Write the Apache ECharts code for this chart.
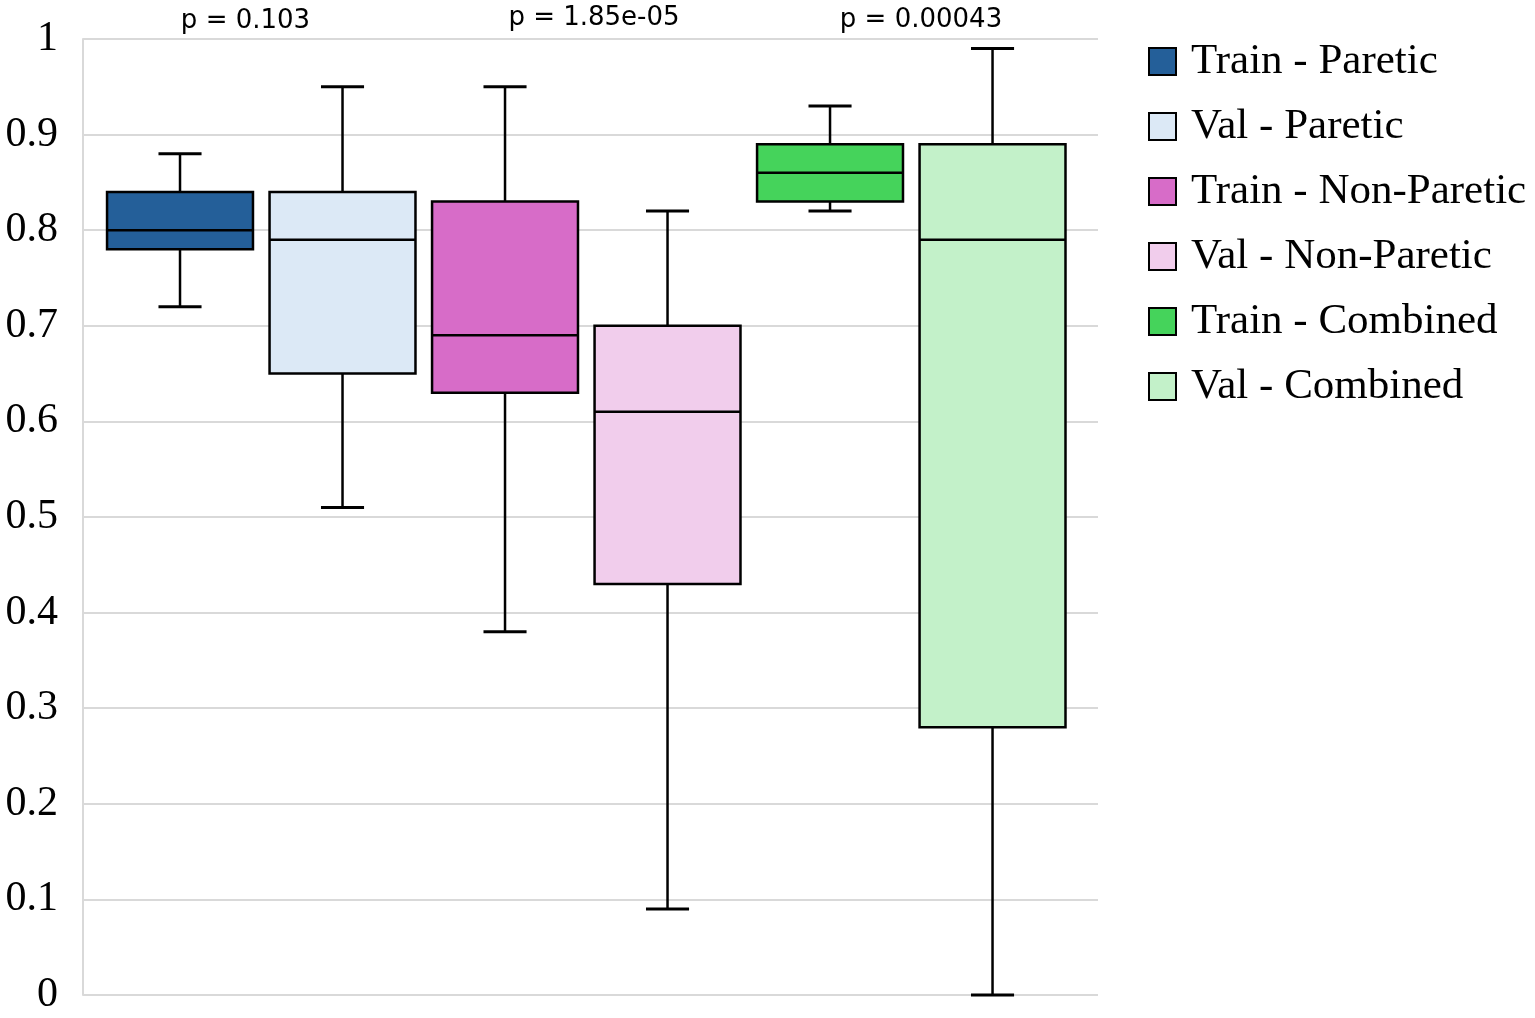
<!DOCTYPE html>
<html>
<head>
<meta charset="utf-8">
<script src="https://cdn.jsdelivr.net/npm/echarts@6/dist/echarts.min.js"></script>
<style>html,body{margin:0;padding:0;background:#fff;}#main{width:1535px;height:1018px;}</style>
</head>
<body>
<div id="main"></div>
<script>
// ---- data ----
const seriesNames = ['Train - Paretic', 'Val - Paretic', 'Train - Non-Paretic', 'Val - Non-Paretic', 'Train - Combined', 'Val - Combined'];
const positions = [0, 1, 2, 3, 4, 5];
// [low whisker, Q1, median, Q3, high whisker]
const trainParetic = [0.72, 0.78, 0.80, 0.84, 0.88];
const valParetic = [0.51, 0.65, 0.79, 0.84, 0.95];
const trainNonParetic = [0.38, 0.63, 0.69, 0.83, 0.95];
const valNonParetic = [0.09, 0.43, 0.61, 0.70, 0.82];
const trainCombined = [0.82, 0.83, 0.86, 0.89, 0.93];
const valCombined = [0.00, 0.28, 0.79, 0.89, 0.99];
const colors = ['#245f99', '#dce9f6', '#d76cc8', '#f1cdec', '#45d35b', '#c3f1c9'];
const pValueLabels = ['p = 0.103', 'p = 1.85e-05', 'p = 0.00043'];
const yTicks = ['0', '0.1', '0.2', '0.3', '0.4', '0.5', '0.6', '0.7', '0.8', '0.9', '1'];

const allStats = [trainParetic, valParetic, trainNonParetic, valNonParetic, trainCombined, valCombined];

const chart = echarts.init(document.getElementById('main'));

function renderBox(params, api) {
  const x = api.value(0);
  const lo = api.coord([x, api.value(1)]);
  const q1 = api.coord([x, api.value(2)]);
  const med = api.coord([x, api.value(3)]);
  const q3 = api.coord([x, api.value(4)]);
  const hi = api.coord([x, api.value(5)]);
  const bw = api.size([0.898, 0])[0];
  const cw = api.size([0.265, 0])[0];
  const cx = lo[0];
  const line = { stroke: '#000', lineWidth: 2.5 };
  const cap = { stroke: '#000', lineWidth: 3 };
  return {
    type: 'group',
    children: [
      { type: 'line', shape: { x1: cx, y1: lo[1], x2: cx, y2: q1[1] }, style: line },
      { type: 'line', shape: { x1: cx, y1: q3[1], x2: cx, y2: hi[1] }, style: line },
      { type: 'line', shape: { x1: cx - cw / 2, y1: lo[1], x2: cx + cw / 2, y2: lo[1] }, style: cap },
      { type: 'line', shape: { x1: cx - cw / 2, y1: hi[1], x2: cx + cw / 2, y2: hi[1] }, style: cap },
      { type: 'rect', shape: { x: cx - bw / 2, y: q3[1], width: bw, height: q1[1] - q3[1] },
        style: { fill: api.visual('color'), stroke: '#000', lineWidth: 2.5 } },
      { type: 'line', shape: { x1: cx - bw / 2, y1: med[1], x2: cx + bw / 2, y2: med[1] }, style: line }
    ]
  };
}

const series = seriesNames.map((name, i) => ({
  name: name,
  type: 'custom',
  renderItem: renderBox,
  itemStyle: { color: colors[i], borderColor: '#000', borderWidth: 2 },
  encode: { x: 0, y: [1, 2, 3, 4, 5] },
  data: [[positions[i]].concat(allStats[i])],
  silent: true
}));

const pFont = '26px "DejaVu Sans", sans-serif';

chart.setOption({
  animation: false,
  backgroundColor: '#fff',
  grid: { left: 83, right: 437, top: 39, bottom: 23 },
  xAxis: { type: 'value', min: -0.597, max: 5.649, show: false },
  yAxis: {
    type: 'value', min: 0, max: 1, interval: 0.1,
    axisLine: { show: true, onZero: false, lineStyle: { color: '#d9d9d9', width: 2 } },
    axisTick: { show: false },
    splitLine: { show: true, lineStyle: { color: '#d9d9d9', width: 2 } },
    axisLabel: {
      margin: 25, color: '#000', fontFamily: 'Liberation Serif', fontSize: 42,
      formatter: function (v) { return yTicks[Math.round(v * 10)]; }
    }
  },
  legend: {
    orient: 'vertical', left: 1148, top: 40, padding: 0,
    itemWidth: 27, itemHeight: 27, itemGap: 22,
    icon: 'rect',
    itemStyle: { borderColor: '#000', borderWidth: 2 },
    textStyle: { fontFamily: 'Liberation Serif', fontSize: 43, color: '#000', lineHeight: 43, padding: [0, 0, 0, 10] },
    data: seriesNames
  },
  graphic: [
    { type: 'text', x: 245.5, y: 21, style: { text: pValueLabels[0], font: pFont, fill: '#000', textAlign: 'center', textVerticalAlign: 'middle' } },
    { type: 'text', x: 594, y: 18, style: { text: pValueLabels[1], font: pFont, fill: '#000', textAlign: 'center', textVerticalAlign: 'middle' } },
    { type: 'text', x: 921, y: 20, style: { text: pValueLabels[2], font: pFont, fill: '#000', textAlign: 'center', textVerticalAlign: 'middle' } }
  ],
  series: series
});
</script>
</body>
</html>
